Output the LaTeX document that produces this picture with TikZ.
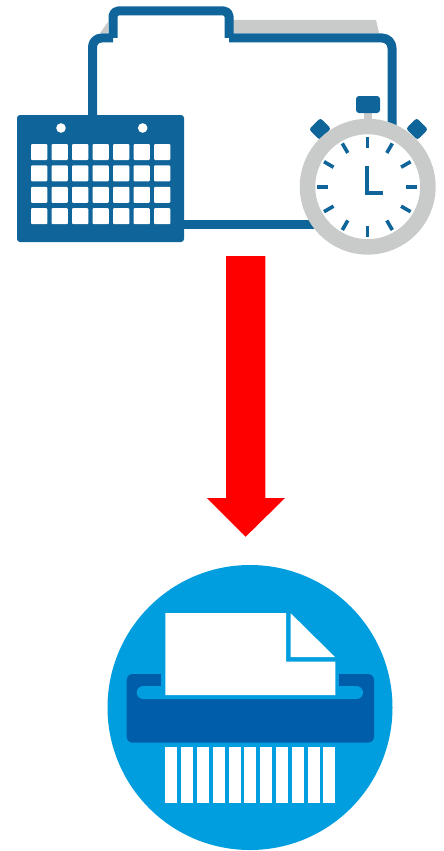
\documentclass[tikz,border=0pt]{standalone}
\usetikzlibrary{calc}
\definecolor{folderblue}{HTML}{0F6499}
\definecolor{watchgray}{HTML}{C9CBCA}
\definecolor{shredlight}{HTML}{009EDE}
\definecolor{shreddark}{HTML}{005DA9}
\tikzset{
  foldline/.style={draw=folderblue,line width=9pt,line join=round},
  tick/.style={draw=folderblue,line width=3.6pt},
  hand/.style={draw=folderblue,line width=3.8pt,line join=miter},
  cell/.style={fill=white,rounded corners=1pt},
  knob/.style={fill=folderblue,rounded corners=2.5pt},
  strip/.style={fill=white},
}
\begin{document}
\begin{tikzpicture}[x=1pt,y=-1pt]
\useasboundingbox (0,0) rectangle (444,851);
% folder
\fill[watchgray] (233,20) -- (376,20) -- (379,33) -- (233,33) -- cycle;
\fill[watchgray] (108,22) -- (100,33) -- (108,33) -- cycle;
\draw[foldline,rounded corners=9pt] (92.5,140) -- (92.5,38) -- (113,38);
\draw[foldline,rounded corners=5pt] (113,38) -- (113,11) -- (229,11) -- (229,38);
\draw[foldline,rounded corners=10pt] (229,38) -- (392,38) -- (392,130);
\draw[foldline] (170,224) -- (320,224);
% calendar
\fill[folderblue,rounded corners=3pt] (17,115) rectangle (184,242);
\fill[white] (61,128) circle (4.8pt) (142.7,128) circle (4.8pt);
\foreach \r in {0,...,3}{
  \foreach \c in {0,...,6}{
    \fill[cell] ({31+20.5*\c},{144+21.4*\r}) rectangle ++(16.3,16);
  }
}
% stopwatch
\fill[watchgray] (363.7,110) rectangle (371.7,125);
\fill[knob,rounded corners=3pt] (356,96) rectangle (380,113);
\fill[knob,rotate around={45:(320,129)}] (312,121.5) rectangle (328,136.5);
\fill[knob,rotate around={-45:(417,129)}] (409,121.5) rectangle (425,136.5);
\fill[white,draw=watchgray,line width=15.5pt] (367.7,186.7) circle (60.2pt);
\foreach \a in {0,30,...,330}{
  \draw[tick] ($(367.3,186.7)+(\a:39)$) -- ($(367.3,186.7)+(\a:50)$);
}
\draw[hand] (367,166) -- (367,192.7) -- (383,192.7);
% arrow
\fill[red] (226,256) -- (265.3,256) -- (265.3,498) -- (285,498) -- (245.7,536.7) -- (207,498) -- (226,498) -- cycle;
% shredder
\fill[shredlight] (250,707.5) circle (142.5pt);
\fill[shreddark,rounded corners=6pt] (126.7,674) rectangle (374,742.7);
\fill[shredlight] (161,670) rectangle (339.3,690);
\fill[shredlight,rounded corners=6.5pt] (136.7,686) rectangle (363,699);
\fill[white] (165.3,613) -- (286,613) -- (286,661.7) -- (335.3,661.7) -- (335.3,695) -- (165.3,695) -- cycle;
\fill[white] (290.7,613.3) -- (335,657) -- (290.7,657) -- cycle;
\foreach \i in {0,...,10}{
  \fill[strip] ({165.3+15.8*\i},746.7) rectangle ++(12,56);
}
\end{tikzpicture}
\end{document}
